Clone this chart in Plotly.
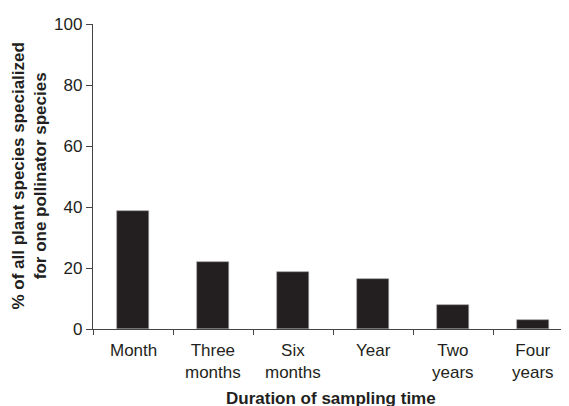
import plotly.graph_objects as go

categories = ["Month", "Three<br>months", "Six<br>months", "Year", "Two<br>years", "Four<br>years"]
values = [38.8, 21.9, 18.8, 16.3, 7.9, 3.0]
y_ticks = [0, 20, 40, 60, 80, 100]

fig = go.Figure()
fig.add_trace(go.Bar(
    x=list(range(len(categories))),
    y=values,
    width=0.41,
    marker=dict(color="#231f20", line=dict(color="#9a9a9a", width=0.6)),
))

font_family = "Liberation Sans, Arial, sans-serif"
fig.update_layout(
    width=569, height=406,
    margin=dict(l=85, r=8, t=16, b=85),
    paper_bgcolor="white", plot_bgcolor="white",
    showlegend=False,
    font=dict(family=font_family, size=17, color="#231f20"),
    bargap=0,
)
fig.update_xaxes(
    range=[-0.5, 5.45],
    tickmode="array",
    tickvals=[i - 0.5 for i in range(len(categories))],
    ticktext=[""] * len(categories),
    ticks="outside", ticklen=5, tickcolor="#444", tickwidth=1.2,
    showline=True, linecolor="#444", linewidth=1.3,
    showgrid=False, zeroline=False, fixedrange=True,
)
fig.update_yaxes(
    range=[0, 100],
    tickvals=y_ticks,
    ticks="outside", ticklen=6, tickcolor="#444", tickwidth=1.2,
    showline=True, linecolor="#444", linewidth=1.3,
    showgrid=False, zeroline=False,
    tickfont=dict(size=17, color="#231f20"),
)

# category labels
for i, c in enumerate(categories):
    fig.add_annotation(
        x=i, y=0, xref="x", yref="paper",
        text=c, showarrow=False,
        yanchor="top", yshift=-10,
        font=dict(size=17, color="#231f20", family=font_family),
        align="center",
    )

# axis titles
fig.add_annotation(
    x=0.5, y=0, xref="paper", yref="paper",
    text="<b>Duration of sampling time</b>", showarrow=False,
    yanchor="top", yshift=-58,
    font=dict(size=17, color="#231f20", family=font_family),
)
fig.add_annotation(
    x=0, y=0.5, xref="paper", yref="paper",
    text="<b>% of all plant species specialized<br>for one pollinator species</b>",
    showarrow=False, textangle=-90,
    xanchor="center", xshift=-64,
    font=dict(size=17, color="#231f20", family=font_family),
    align="center",
)

fig.write_html("out.html")
